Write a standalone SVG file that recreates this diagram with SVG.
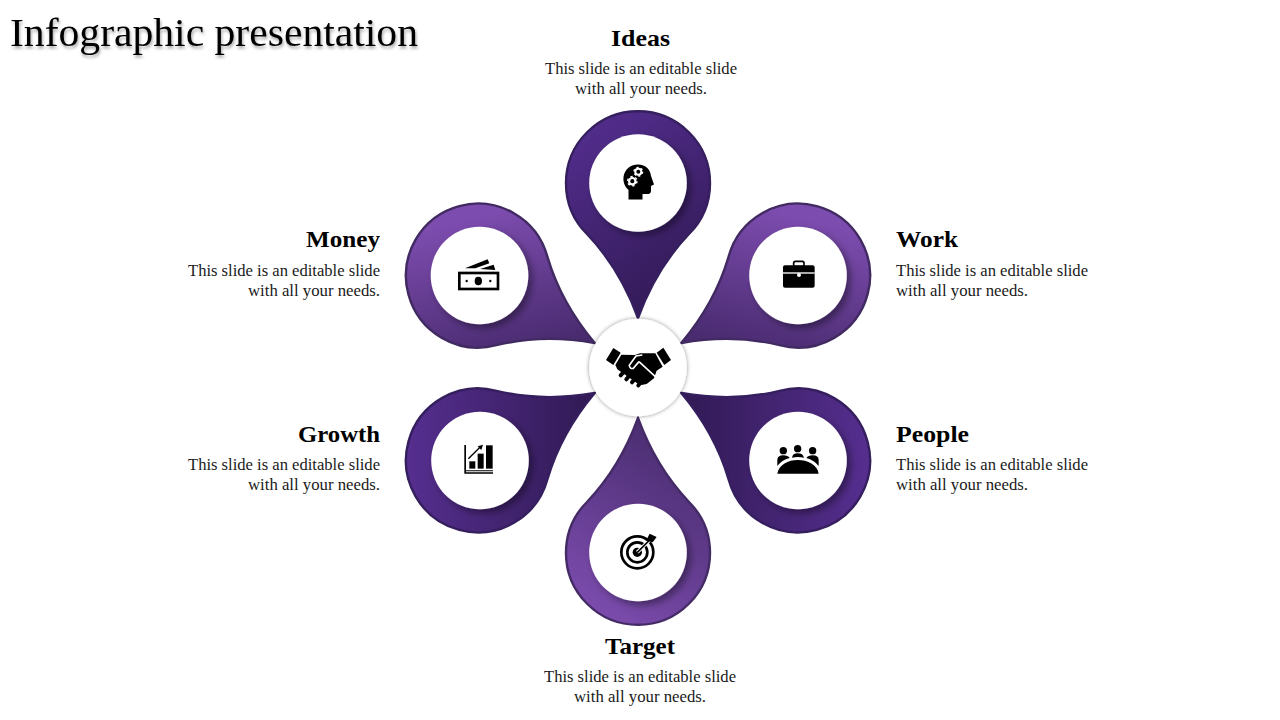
<svg xmlns="http://www.w3.org/2000/svg" width="1280" height="720" viewBox="0 0 1280 720">
<style>
text{font-family:"Liberation Serif","Times New Roman",serif;fill:#000}
.h{font-size:23px;font-weight:700}
.b{font-size:17px;fill:#1a1a1a}
.pin{stroke-width:2.4}
.disc{fill:#fff}
.k{fill:#000}
.w{fill:#fff}
</style>
<defs>
<filter id="ds" x="-30%" y="-30%" width="170%" height="170%"><feDropShadow dx="4" dy="4" stdDeviation="3.500" flood-color="#000" flood-opacity=".38"/></filter>
<filter id="hs" x="-20%" y="-20%" width="140%" height="140%"><feDropShadow dx="0" dy="0" stdDeviation="2" flood-color="#000" flood-opacity=".45"/></filter>
<filter id="ts" x="-5%" y="-20%" width="110%" height="150%"><feDropShadow dx="1" dy="2.500" stdDeviation="1.800" flood-color="#000" flood-opacity=".35"/></filter>
<path id="p" d="M638 318C626 285 608 256 587 234A72 72 0 1 1 689 234C668 256 650 285 638 318Z"/>
<linearGradient id="g1" gradientUnits="userSpaceOnUse" x1="580" y1="130" x2="690" y2="290"><stop offset="0" stop-color="#522d8c"/><stop offset="1" stop-color="#321a56"/></linearGradient>
<linearGradient id="g2" gradientUnits="userSpaceOnUse" x1="750" y1="205" x2="715" y2="345" gradientTransform="rotate(-60 638 368)"><stop offset="0" stop-color="#7c4cae"/><stop offset="1" stop-color="#482a6e"/></linearGradient>
<linearGradient id="g3" gradientUnits="userSpaceOnUse" x1="865" y1="450" x2="685" y2="450" gradientTransform="rotate(-120 638 368)"><stop offset="0" stop-color="#552e8e"/><stop offset="1" stop-color="#311a55"/></linearGradient>
<linearGradient id="g4" gradientUnits="userSpaceOnUse" x1="585" y1="610" x2="690" y2="450" gradientTransform="rotate(-180 638 368)"><stop offset="0" stop-color="#7c4cae"/><stop offset="1" stop-color="#4a2d70"/></linearGradient>
<linearGradient id="g5" gradientUnits="userSpaceOnUse" x1="410" y1="450" x2="590" y2="450" gradientTransform="rotate(-240 638 368)"><stop offset="0" stop-color="#552e8e"/><stop offset="1" stop-color="#311a55"/></linearGradient>
<linearGradient id="g6" gradientUnits="userSpaceOnUse" x1="525" y1="205" x2="560" y2="345" gradientTransform="rotate(-300 638 368)"><stop offset="0" stop-color="#7c4cae"/><stop offset="1" stop-color="#482a6e"/></linearGradient>
</defs>
<rect width="1280" height="720" fill="#fff"/>
<text id="title" x="10" y="46" font-size="39" textLength="408" lengthAdjust="spacingAndGlyphs" filter="url(#ts)">Infographic presentation</text>

<g id="node-ideas">
<use href="#p" class="pin" fill="url(#g1)" stroke="#351f5e"/>
<circle class="disc" cx="638" cy="183" r="48.800" filter="url(#ds)"/>
<path class="k" d="M628.500 199.500V190C624.500 186.500 623 181.500 623.500 177C624.500 169 631 164.500 638 164.500C646 164.500 650.500 170 651 176L654 184.500L651 186V191C651 193.500 649 194 647 194H642.500V199.500Z"/>
<circle cx="638.300" cy="171.700" r="3" fill="#000" stroke="#fff" stroke-width="2"/>
<circle cx="638.300" cy="171.700" r="4.300" fill="none" stroke="#fff" stroke-width="1.400" stroke-dasharray="2.100 2.400"/>
<circle cx="632.300" cy="181.200" r="3.200" fill="#000" stroke="#fff" stroke-width="2.200"/>
<circle cx="632.300" cy="181.200" r="4.700" fill="none" stroke="#fff" stroke-width="1.400" stroke-dasharray="2.300 2.620"/>
<text class="h" x="640.500" y="46" text-anchor="middle" textLength="59" lengthAdjust="spacingAndGlyphs">Ideas</text>
<text class="b" x="641" y="74" text-anchor="middle" textLength="192" lengthAdjust="spacingAndGlyphs">This slide is an editable slide</text>
<text class="b" x="641" y="94" text-anchor="middle" textLength="132" lengthAdjust="spacingAndGlyphs">with all your needs.</text>
</g>

<g id="node-work">
<use href="#p" class="pin" fill="url(#g2)" stroke="#412a62" transform="rotate(60 638 368)"/>
<circle class="disc" cx="798" cy="275.500" r="48.800" filter="url(#ds)"/>
<g transform="translate(680 195) scale(.3333)">
<rect class="k" x="309" y="211" width="95" height="67" rx="6"/>
<rect x="341" y="199" width="31" height="16" rx="5" fill="none" stroke="#000" stroke-width="5"/>
<rect class="w" x="309" y="232" width="95" height="4"/>
<circle class="w" cx="357" cy="240" r="6"/>
</g>
<text class="h" x="896" y="247" textLength="62" lengthAdjust="spacingAndGlyphs">Work</text>
<text class="b" x="896" y="276" textLength="192" lengthAdjust="spacingAndGlyphs">This slide is an editable slide</text>
<text class="b" x="896" y="296" textLength="132" lengthAdjust="spacingAndGlyphs">with all your needs.</text>
</g>

<g id="node-people">
<use href="#p" class="pin" fill="url(#g3)" stroke="#351f5e" transform="rotate(120 638 368)"/>
<circle class="disc" cx="798" cy="460.500" r="48.800" filter="url(#ds)"/>
<g transform="translate(680 380) scale(.3333)">
<circle class="k" cx="310" cy="212" r="11"/><circle class="k" cx="353" cy="206" r="11"/><circle class="k" cx="398" cy="212" r="11"/>
<path class="k" d="M292 258V240Q292 226 310 226Q324 226 329 234Q305 240 292 258ZM336 233Q338 220 353 220Q369 220 372 233Q353 229 336 233ZM379 234Q384 226 398 226Q416 226 416 240V258Q402 240 379 234Z"/>
<path class="k" d="M292 281C296 254 325 240 353 240C383 240 412 254 416 281Z"/>
</g>
<text class="h" x="896" y="442" textLength="73" lengthAdjust="spacingAndGlyphs">People</text>
<text class="b" x="896" y="470" textLength="192" lengthAdjust="spacingAndGlyphs">This slide is an editable slide</text>
<text class="b" x="896" y="490" textLength="132" lengthAdjust="spacingAndGlyphs">with all your needs.</text>
</g>

<g id="node-target">
<use href="#p" class="pin" fill="url(#g4)" stroke="#442b66" transform="rotate(180 638 368)"/>
<circle class="disc" cx="638" cy="552.500" r="48.800" filter="url(#ds)"/>
<g transform="translate(550 410) scale(.3333)">
<circle cx="262" cy="427" r="48" fill="none" stroke="#000" stroke-width="8"/>
<circle cx="262" cy="427" r="30" fill="none" stroke="#000" stroke-width="8"/>
<circle class="k" cx="262" cy="427" r="14"/>
<path d="M262 427L302 387" stroke="#fff" stroke-width="11" fill="none"/>
<path d="M262 427L302 387" stroke="#000" stroke-width="5" fill="none"/>
<path class="k" d="M299 371L320 381L308 397L288 392Z"/>
</g>
<text class="h" x="640" y="654" text-anchor="middle" textLength="70" lengthAdjust="spacingAndGlyphs">Target</text>
<text class="b" x="640" y="682" text-anchor="middle" textLength="192" lengthAdjust="spacingAndGlyphs">This slide is an editable slide</text>
<text class="b" x="640" y="702" text-anchor="middle" textLength="132" lengthAdjust="spacingAndGlyphs">with all your needs.</text>
</g>

<g id="node-growth">
<use href="#p" class="pin" fill="url(#g5)" stroke="#351f5e" transform="rotate(240 638 368)"/>
<circle class="disc" cx="480" cy="460.500" r="48.800" filter="url(#ds)"/>
<g transform="translate(400 380) scale(.3333)">
<path class="k" d="M193 195H198V271H279V274H198V277H279V281H193Z"/>
<rect class="k" x="208" y="244" width="18" height="22"/>
<rect class="k" x="233" y="221" width="18" height="45"/>
<rect class="k" x="258" y="196" width="20" height="70"/>
<path d="M205 236L240 202" stroke="#000" stroke-width="4" fill="none"/>
<path class="k" d="M249 194L244 210L233 199Z"/>
</g>
<text class="h" x="380" y="442" text-anchor="end" textLength="82" lengthAdjust="spacingAndGlyphs">Growth</text>
<text class="b" x="380" y="470" text-anchor="end" textLength="192" lengthAdjust="spacingAndGlyphs">This slide is an editable slide</text>
<text class="b" x="380" y="490" text-anchor="end" textLength="132" lengthAdjust="spacingAndGlyphs">with all your needs.</text>
</g>

<g id="node-money">
<use href="#p" class="pin" fill="url(#g6)" stroke="#412a62" transform="rotate(300 638 368)"/>
<circle class="disc" cx="479.500" cy="275.500" r="48.800" filter="url(#ds)"/>
<g transform="translate(400 195) scale(.3333)">
<rect x="178" y="234" width="116" height="48" fill="none" stroke="#000" stroke-width="8"/>
<ellipse class="k" cx="235" cy="258" rx="11" ry="13"/>
<circle class="k" cx="200" cy="258" r="3.500"/><circle class="k" cx="271" cy="258" r="3.500"/>
<path class="k" d="M195 220L263 193L268 205L226 220ZM240 222L281 209L286 225Z"/>
</g>
<text class="h" x="380" y="247" text-anchor="end" textLength="74" lengthAdjust="spacingAndGlyphs">Money</text>
<text class="b" x="380" y="276" text-anchor="end" textLength="192" lengthAdjust="spacingAndGlyphs">This slide is an editable slide</text>
<text class="b" x="380" y="296" text-anchor="end" textLength="132" lengthAdjust="spacingAndGlyphs">with all your needs.</text>
</g>

<g id="node-hub">
<circle class="disc" cx="638" cy="367.500" r="48.800" filter="url(#hs)"/>
<g transform="translate(580 310) scale(.3333)">
<path class="k" d="M78 150L100 114L122 128L100 165Z"/>
<path class="k" d="M230 128L250 113L273 150L253 165Z"/>
<path class="k" d="M124 134L165 135L180 130H226L248 170L230 182L222 205L200 222L180 226L112 178L106 165Z"/>
<path d="M122 196L136 180M139 208L153 191M156 217L170 200M175 226L187 210" stroke="#000" stroke-width="12" stroke-linecap="round" fill="none"/>
<path d="M177 155L160 175Q150 178 148 166L168 138L187 135M177 155L226 200" stroke="#fff" stroke-width="5" fill="none"/>
</g>
</g>
</svg>
